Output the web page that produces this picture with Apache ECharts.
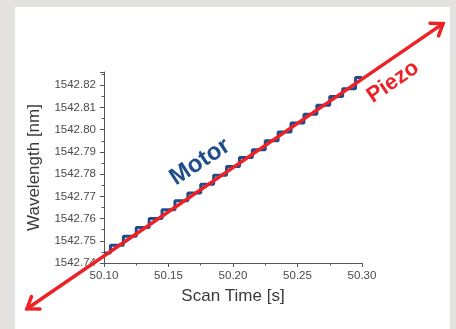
<!doctype html>
<html>

<head>
    <meta charset="utf-8">
    <title>Motor vs Piezo</title>
    <script type="text/javascript" src="https://cdn.jsdelivr.net/npm/echarts@6/dist/echarts.min.js"></script>
</head>

<body style="margin:0;padding:0;background:#e4e2e1;">
    <div id="tb" style="width:456px;height:329px;"></div>
    <script>
        // 扫描时间 (s)
        var scanTime = [50.10, 50.11, 50.12, 50.13, 50.14, 50.15, 50.16, 50.17, 50.18, 50.19, 50.20,
            50.21, 50.22, 50.23, 50.24, 50.25, 50.26, 50.27, 50.28, 50.29, 50.30];
        // 电机扫描波长 (nm) 阶梯
        var motorWl = [1542.7445, 1542.7480, 1542.7520, 1542.7560, 1542.7600, 1542.7640, 1542.7680,
            1542.7715, 1542.7755, 1542.7795, 1542.7835, 1542.7875, 1542.7910, 1542.7950, 1542.7990,
            1542.8030, 1542.8070, 1542.8110, 1542.8150, 1542.8185, 1542.8235];
        // 压电扫描 (直线, 两端箭头)
        var piezoStart = [50.0403, 1542.7194];
        var piezoEnd = [50.3628, 1542.8478];

        var bt = document.getElementById('tb');
        var chart = echarts.init(bt);

        var labelFont = '"Liberation Sans", Arial, sans-serif';
        var red = '#ec2227';
        var blue = '#1f4c8b';

        // 红色箭头线
        function renderArrow(params, api) {
            var a = api.coord([api.value(0), api.value(1)]);
            var b = api.coord([api.value(2), api.value(3)]);
            var dx = b[0] - a[0], dy = b[1] - a[1];
            var len = Math.sqrt(dx * dx + dy * dy);
            var ux = dx / len, uy = dy / len;
            function head(p, sx, sy) {
                var L = 13, ang = 0.62;
                var c = Math.cos(ang), s = Math.sin(ang);
                var bx = -sx, by = -sy;
                return [
                    [p[0] + L * (bx * c - by * s), p[1] + L * (bx * s + by * c)],
                    [p[0], p[1]],
                    [p[0] + L * (bx * c + by * s), p[1] + L * (-bx * s + by * c)]
                ];
            }
            var style = { stroke: red, lineWidth: 3.5, fill: null, lineCap: 'round', lineJoin: 'miter' };
            return {
                type: 'group',
                children: [
                    { type: 'line', shape: { x1: a[0], y1: a[1], x2: b[0], y2: b[1] }, style: style },
                    { type: 'polyline', shape: { points: head(b, ux, uy) }, style: style },
                    { type: 'polyline', shape: { points: head(a, -ux, -uy) }, style: style }
                ]
            };
        }

        chart.setOption({
            backgroundColor: '#e4e2e1',
            animation: false,
            grid: { left: 104, right: 94, top: 72, bottom: 66 },
            graphic: [
                { type: 'rect', z: -10, shape: { x: 15, y: 7, width: 435, height: 322 }, style: { fill: '#ffffff' } },
                {
                    type: 'text', x: 200, y: 162, rotation: 0.58, z: 10,
                    style: { text: 'Motor', align: 'center', verticalAlign: 'middle', fill: blue,
                        font: 'bold 24px ' + labelFont }
                },
                {
                    type: 'text', x: 393, y: 82, rotation: 0.6, z: 10,
                    style: { text: 'Piezo', align: 'center', verticalAlign: 'middle', fill: red,
                        font: 'bold 22px ' + labelFont }
                }
            ],
            xAxis: {
                type: 'value',
                min: 50.10,
                max: 50.30,
                interval: 0.05,
                name: 'Scan Time [s]',
                nameLocation: 'middle',
                nameGap: 25,
                nameTextStyle: { fontSize: 17, color: '#3a3a3a', fontFamily: labelFont },
                axisLine: { lineStyle: { color: '#555', width: 1 } },
                axisTick: { length: 4, lineStyle: { color: '#555' } },
                minorTick: { show: true, splitNumber: 2, length: 2.5, lineStyle: { color: '#555' } },
                splitLine: { show: false },
                axisLabel: {
                    margin: 7, fontSize: 11.5, color: '#4a4a4a', fontFamily: labelFont,
                    formatter: function (v) { return v.toFixed(2); }
                }
            },
            yAxis: {
                type: 'value',
                min: 1542.74,
                max: 1542.826,
                interval: 0.01,
                name: 'Wavelength [nm]',
                nameLocation: 'middle',
                nameGap: 61,
                nameTextStyle: { fontSize: 17, color: '#3a3a3a', fontFamily: labelFont },
                axisLine: { lineStyle: { color: '#555', width: 1 } },
                axisTick: { length: 4, lineStyle: { color: '#555' } },
                minorTick: { show: true, splitNumber: 2, length: 2.5, lineStyle: { color: '#555' } },
                splitLine: { show: false },
                axisLabel: {
                    margin: 8, fontSize: 11.5, color: '#4a4a4a', fontFamily: labelFont,
                    formatter: function (v) { return v > 1542.8205 ? '' : v.toFixed(2); }
                }
            },
            series: [
                {
                    name: 'Motor',
                    type: 'line',
                    step: 'middle',
                    showSymbol: false,
                    z: 3,
                    lineStyle: { color: blue, width: 3 },
                    data: scanTime.map(function (t, i) { return [t, motorWl[i]]; })
                },
                {
                    name: 'Piezo',
                    type: 'custom',
                    clip: false,
                    z: 5,
                    renderItem: renderArrow,
                    encode: { x: [0, 2], y: [1, 3] },
                    data: [[piezoStart[0], piezoStart[1], piezoEnd[0], piezoEnd[1]]]
                }
            ]
        });
    </script>
</body>

</html>
